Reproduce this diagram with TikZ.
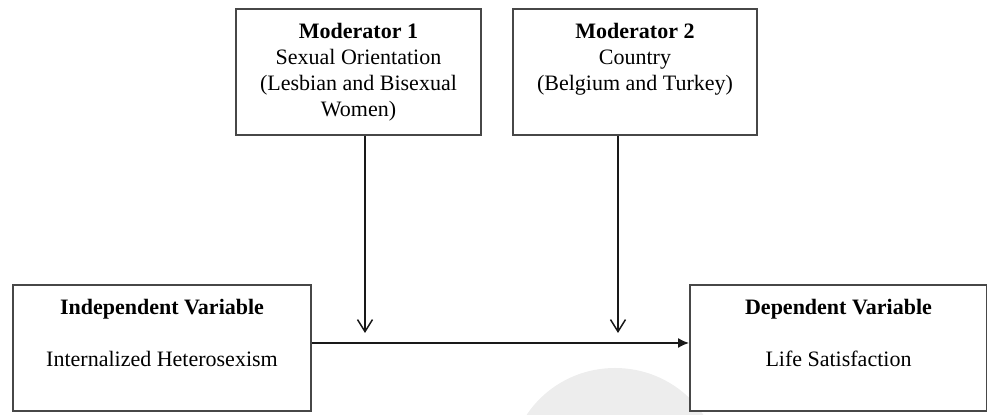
\documentclass[tikz,border=0pt]{standalone}
\usepackage{fontspec}
\setmainfont{Liberation Serif}
\usetikzlibrary{arrows.meta, positioning}

\begin{document}
\begin{tikzpicture}[x=0.5pt, y=-0.5pt,
		varbox/.style={draw=black!72, line width=1pt, fill=white, minimum height=63pt, inner sep=0pt, align=center, font=\fontsize{11}{13}\selectfont},
		modarrow/.style={draw=black!90, line width=0.75pt, -{Straight Barb[length=6pt, width=7.5pt]}},
		flowarrow/.style={draw=black!90, line width=0.75pt, -{Latex[length=5.5pt, width=5pt]}}]
	\def\W{987};
	\def\H{415};

	\useasboundingbox (0,0) rectangle (\W,\H);

	\begin{scope}
		\clip (0,0) rectangle (\W,\H);
		\fill [black!7] (615,470) ellipse [x radius=105, y radius=102];
	\end{scope}

	% moderators
	\node [varbox, minimum width=122.5pt] (mod1) at (358.5,72) {\textbf{Moderator 1}\\ Sexual Orientation\\ (Lesbian and Bisexual\\ Women)};
	\node [varbox, minimum width=122pt] (mod2) at (635,72) {\textbf{Moderator 2}\\ Country\\ (Belgium and Turkey)\\ \vphantom{)}};

	% variables
	\node [varbox, minimum width=149pt] (indep) at (162,348) {\textbf{Independent Variable}\\ \strut\\ Internalized Heterosexism\\ \vphantom{)}};
	\node [varbox, minimum width=148.5pt] (dep) at (838.5,348) {\textbf{Dependent Variable}\\ \strut\\ Life Satisfaction\\ \vphantom{)}};

	\coordinate (tip1) at (365,333);
	\coordinate (tip2) at (618,333);

	\begin{scope}
		\draw [flowarrow] ([yshift=2.5pt]indep.east) -- ([yshift=2.5pt]dep.west);
		\draw [modarrow] (mod1.south -| tip1) -- (tip1);
		\draw [modarrow] (mod2.south -| tip2) -- (tip2);
	\end{scope}

\end{tikzpicture}
\end{document}
